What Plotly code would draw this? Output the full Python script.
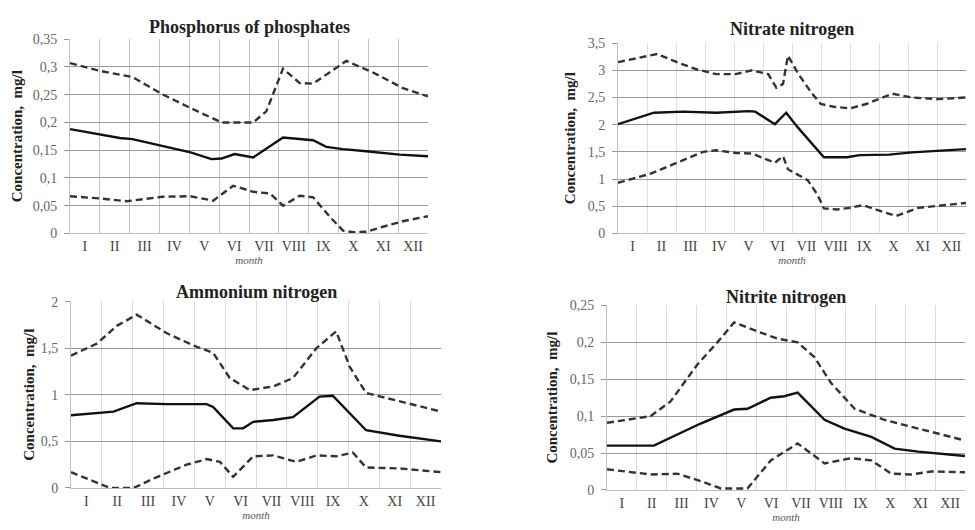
import plotly.graph_objects as go

months = ["I", "II", "III", "IV", "V", "VI", "VII", "VIII", "IX", "X", "XI", "XII"]
titles = ["Phosphorus of phosphates", "Nitrate nitrogen", "Ammonium nitrogen", "Nitrite nitrogen"]

# Phosphorus of phosphates
p_mean_x = [0.5, 1.5, 2.17, 2.59, 3.59, 4.54, 5.24, 5.58, 6.02, 6.64, 7.64, 8.20, 8.65, 9.09, 9.65, 10.43, 11.55, 12.5]
p_mean_y = [0.188, 0.178, 0.172, 0.170, 0.157, 0.146, 0.134, 0.135, 0.143, 0.137, 0.173, 0.170, 0.168, 0.156, 0.152, 0.148, 0.142, 0.139]
p_up_x = [0.5, 1.5, 2.59, 3.59, 4.54, 5.30, 5.58, 6.64, 7.08, 7.64, 8.20, 8.65, 9.76, 10.66, 11.66, 12.5]
p_up_y = [0.307, 0.293, 0.282, 0.251, 0.226, 0.206, 0.200, 0.200, 0.220, 0.297, 0.271, 0.270, 0.311, 0.290, 0.262, 0.247]
p_lo_x = [0.5, 1.5, 2.40, 3.59, 4.54, 5.30, 5.97, 6.64, 7.20, 7.64, 8.20, 8.65, 9.21, 9.65, 9.99, 10.43, 10.99, 11.66, 12.5]
p_lo_y = [0.067, 0.063, 0.058, 0.066, 0.067, 0.059, 0.086, 0.075, 0.072, 0.050, 0.068, 0.065, 0.030, 0.005, 0.002, 0.003, 0.012, 0.022, 0.031]

# Nitrate nitrogen
n3_mean_x = [0.5, 1.74, 2.75, 3.88, 5.01, 5.23, 5.91, 6.30, 6.70, 7.60, 8.39, 8.84, 9.85, 10.64, 12.5]
n3_mean_y = [2.01, 2.22, 2.24, 2.22, 2.25, 2.24, 2.01, 2.22, 1.95, 1.40, 1.40, 1.44, 1.45, 1.49, 1.55]
n3_up_x = [0.5, 1.85, 2.53, 3.20, 3.88, 4.56, 5.12, 5.68, 5.96, 6.19, 6.36, 6.70, 7.15, 7.49, 7.94, 8.50, 9.06, 9.96, 10.64, 11.54, 12.5]
n3_up_y = [3.15, 3.30, 3.15, 3.02, 2.93, 2.93, 3.00, 2.93, 2.68, 2.75, 3.27, 2.95, 2.60, 2.38, 2.33, 2.30, 2.38, 2.57, 2.50, 2.47, 2.50]
n3_lo_x = [0.5, 1.63, 2.75, 3.43, 3.88, 4.56, 5.12, 5.91, 6.19, 6.36, 7.04, 7.37, 7.60, 8.05, 8.50, 8.95, 9.51, 10.08, 10.86, 12.5]
n3_lo_y = [0.93, 1.10, 1.35, 1.50, 1.53, 1.48, 1.47, 1.30, 1.42, 1.18, 0.98, 0.72, 0.46, 0.44, 0.47, 0.52, 0.42, 0.32, 0.47, 0.56]

# Ammonium nitrogen
nh_mean_x = [0.5, 1.88, 2.63, 3.61, 4.90, 5.11, 5.76, 6.08, 6.41, 7.06, 7.70, 8.56, 8.99, 10.07, 11.15, 12.5]
nh_mean_y = [0.78, 0.82, 0.91, 0.90, 0.90, 0.87, 0.64, 0.64, 0.71, 0.73, 0.76, 0.98, 0.99, 0.62, 0.56, 0.50]
nh_up_x = [0.5, 1.34, 1.99, 2.63, 3.61, 4.47, 5.11, 5.65, 6.30, 7.06, 7.70, 8.46, 9.10, 9.54, 10.07, 11.15, 12.5]
nh_up_y = [1.42, 1.55, 1.74, 1.86, 1.66, 1.53, 1.45, 1.18, 1.05, 1.09, 1.18, 1.50, 1.68, 1.30, 1.02, 0.93, 0.82]
nh_lo_x = [0.5, 1.23, 1.77, 2.53, 3.17, 4.25, 4.90, 5.33, 5.76, 6.41, 7.06, 7.81, 8.46, 9.10, 9.64, 10.07, 11.15, 12.5]
nh_lo_y = [0.17, 0.07, 0.0, 0.0, 0.10, 0.25, 0.31, 0.28, 0.12, 0.34, 0.35, 0.28, 0.35, 0.34, 0.38, 0.22, 0.21, 0.17]

# Nitrite nitrogen
n2_mean_x = [0.5, 2.07, 3.64, 4.76, 5.21, 5.99, 6.44, 6.89, 7.79, 8.46, 9.36, 10.14, 10.93, 12.5]
n2_mean_y = [0.060, 0.060, 0.090, 0.109, 0.110, 0.125, 0.127, 0.132, 0.095, 0.083, 0.072, 0.056, 0.052, 0.046]
n2_up_x = [0.5, 1.96, 2.63, 3.53, 4.20, 4.76, 5.54, 6.22, 6.89, 7.45, 8.01, 8.80, 9.80, 10.93, 12.5]
n2_up_y = [0.091, 0.100, 0.120, 0.170, 0.200, 0.227, 0.215, 0.205, 0.200, 0.180, 0.145, 0.110, 0.095, 0.083, 0.067]
n2_lo_x = [0.5, 1.96, 2.85, 3.64, 4.31, 5.21, 5.99, 6.89, 7.79, 8.68, 9.36, 10.03, 10.70, 11.37, 12.5]
n2_lo_y = [0.028, 0.021, 0.022, 0.012, 0.002, 0.002, 0.040, 0.063, 0.036, 0.043, 0.040, 0.022, 0.021, 0.025, 0.024]

y_max = [0.35, 3.5, 2.0, 0.25]
y_step = [0.05, 0.5, 0.5, 0.05]

panels = [
    (p_mean_x, p_mean_y, p_up_x, p_up_y, p_lo_x, p_lo_y),
    (n3_mean_x, n3_mean_y, n3_up_x, n3_up_y, n3_lo_x, n3_lo_y),
    (nh_mean_x, nh_mean_y, nh_up_x, nh_up_y, nh_lo_x, nh_lo_y),
    (n2_mean_x, n2_mean_y, n2_up_x, n2_up_y, n2_lo_x, n2_lo_y),
]

W, H = 975, 530
# plot boxes in pixels: x0, x1, y0(top), y1(bottom); y-title centre x; title centre y
boxes = [(70, 428, 33, 233), (618, 966, 37, 233), (71, 441, 303, 495), (607, 965, 307, 497)]
ytitle_x = [17, 570, 29, 552]
title_y = [21, 23, 293, 298]
vgrid = ["#c4c4c4", "#e0e0e0", "#dadada", "#dadada"]

FONT = "Liberation Serif"
fig = go.Figure()
layout = dict(
    width=W, height=H, margin=dict(l=0, r=0, t=0, b=0),
    paper_bgcolor="white", plot_bgcolor="white", showlegend=False,
    separators=", ", font=dict(family=FONT, color="#444"),
)
annotations = []
for i, (mx, my, ux, uy, lx, ly) in enumerate(panels):
    n = "" if i == 0 else str(i + 1)
    xa, ya = "x" + n, "y" + n
    for xs, ys, dash, col in [(ux, uy, "7px,4px", "#333"), (lx, ly, "7px,4px", "#333"), (mx, my, "solid", "#111")]:
        fig.add_trace(go.Scatter(x=xs, y=ys, mode="lines", xaxis=xa, yaxis=ya,
                                 line=dict(color=col, width=2.4, dash=dash)))
    x0, x1, t, b = boxes[i]
    layout["xaxis" + n] = dict(
        domain=[x0 / W, x1 / W], anchor=ya, range=[0.5, 12.5],
        tickvals=list(range(1, 13)), ticktext=months, showgrid=False,
        tickfont=dict(family=FONT, size=14, color="#444"), ticks="",
        minor=dict(tick0=0.5, dtick=1, showgrid=True, gridcolor=vgrid[i], gridwidth=1, ticks=""),
        showline=True, linecolor="#c0c0c0", linewidth=1, zeroline=False,
        title=dict(text="<i>month</i>", font=dict(family=FONT, size=11, color="#555"), standoff=0),
    )
    layout["yaxis" + n] = dict(
        domain=[1 - b / H, 1 - t / H], anchor=xa, range=[0, y_max[i] * 1.001],
        tick0=0, dtick=y_step[i], showgrid=True, gridcolor="#999999", gridwidth=1,
        tickfont=dict(family=FONT, size=14, color="#666"), zeroline=False,
        showline=True, linecolor="#c0c0c0", ticks="outside", ticklen=5, tickcolor="#999999",
        ticklabelstandoff=4,
    )
    annotations.append(dict(
        text="<b>" + titles[i] + "</b>", xref="paper", yref="paper",
        x=(x0 + x1) / 2 / W, y=1 - title_y[i] / H, xanchor="center", yanchor="middle",
        showarrow=False, font=dict(family=FONT, size=18, color="#222"),
    ))
    annotations.append(dict(
        text="<b>Concentration,  mg/l</b>", xref="paper", yref="paper", textangle=-90,
        x=ytitle_x[i] / W, y=1 - (t + b) / 2 / H, xanchor="center", yanchor="middle",
        showarrow=False, font=dict(family=FONT, size=15, color="#222"),
    ))
layout["annotations"] = annotations
fig.update_layout(**layout)
fig.write_html("out.html", config={"displayModeBar": False},
               post_script="document.body.style.margin='0';document.body.style.overflow='hidden';")
